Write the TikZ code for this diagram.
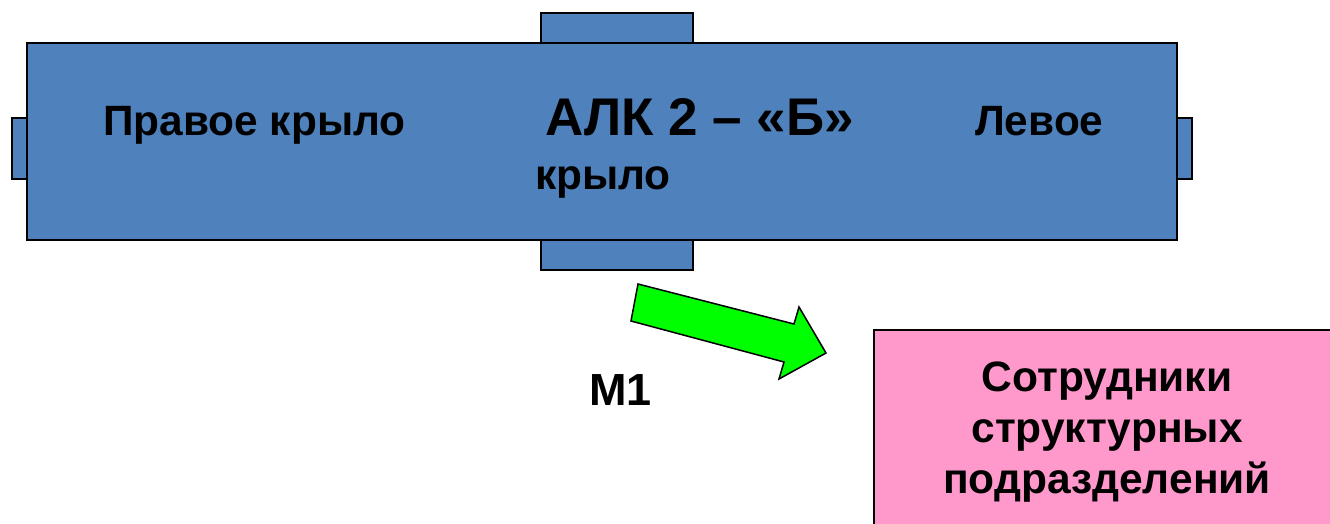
\documentclass[tikz,border=0pt]{standalone}
\usepackage{fontspec}
\setmainfont{Liberation Sans}
\definecolor{blockblue}{HTML}{4F81BD}
\definecolor{boxpink}{HTML}{FF99CC}
\definecolor{arrowgreen}{HTML}{00FF00}
\tikzset{
  blk/.style={draw=black, line width=1.8pt, fill=blockblue},
  tab/.style={draw=black, line width=1.5pt, fill=blockblue},
  lbl/.style={inner sep=0pt, anchor=base west, font=\bfseries\fontsize{42.4}{50}\selectfont},
}
\begin{document}
\begin{tikzpicture}[x=1pt,y=-1pt]
\useasboundingbox (0,0) rectangle (1330,523);
% tabs
\draw[tab] (541,13) rectangle (693,43);
\draw[tab] (541,240) rectangle (693,270);
\draw[tab] (12,118) rectangle (27,179);
\draw[tab] (1177,118) rectangle (1192,179);
% main block
\draw[blk] (27,43) rectangle (1177,240);
% texts in the block
\node[lbl] (pravoe) at (103,135) {Правое крыло};
\node[lbl, font=\bfseries\fontsize{53}{60}\selectfont] (alk) at (545,135) {АЛК 2 – «Б»};
\node[lbl] (levoe) at (975,135) {Левое};
\node[lbl] (krylo) at (535,189) {крыло};
% green block arrow
\draw[fill=arrowgreen, line width=1.5pt, line join=miter]
  (638,284) -- (794,324) -- (799,307) -- (826,353) -- (779,379) -- (784,362) -- (631,321) -- cycle;
\node[lbl, font=\bfseries\fontsize{45}{54}\selectfont] (m1) at (589,405) {M1};
% pink box
\begin{scope}
\clip (0,0) rectangle (1330,523);
\draw[draw=black, line width=1.8pt, fill=boxpink] (874,330) rectangle (1345,535);
\end{scope}
\node[inner sep=0pt, align=center, anchor=north, font=\bfseries\fontsize{42.5}{51}\selectfont] (staff) at (1107,362)
  {Сотрудники\\структурных\\подразделений};
\end{tikzpicture}
\end{document}
